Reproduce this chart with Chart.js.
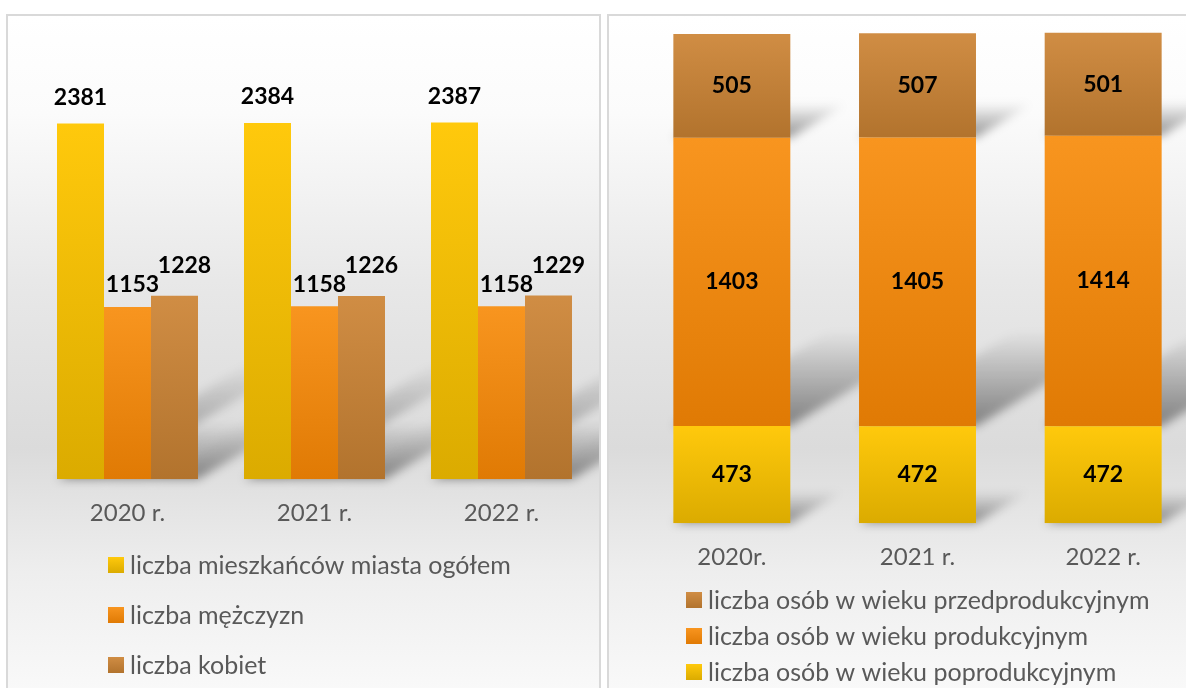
<!DOCTYPE html>
<html lang="pl">
<head>
<meta charset="utf-8">
<title>Mieszkańcy 2020–2022</title>
<script src="https://cdn.jsdelivr.net/npm/chart.js@4.4.1/dist/chart.umd.min.js"></script>
<style>
  html, body { margin: 0; padding: 0; background: #fff; }
  body { width: 1186px; height: 688px; position: relative; overflow: hidden; }
  .panel {
    position: absolute; top: 14px; height: 700px; overflow: hidden;
    border: 2px solid #d9d9d9; box-sizing: border-box;
    background: linear-gradient(to bottom, #ffffff 0%, #fbfbfb 14%, #e8e8e8 38%, #dbdbdb 62%, #eeeeee 80%, #fbfbfb 100%);
  }
  #leftPanel { left: 6px; width: 595px; }
  #rightPanel { left: 607px; width: 600px; }
  .panel canvas { position: absolute; left: 0; top: 0; }
</style>
</head>
<body>
<div class="panel" id="leftPanel"><canvas id="peopleChart" width="591" height="672"></canvas></div>
<div class="panel" id="rightPanel"><canvas id="ageChart" width="591" height="672"></canvas></div>

<script>
/* ========= DATA ========= */
const YEARS_LEFT = ["2020 r.", "2021 r.", "2022 r."];
const YEARS_RIGHT = ["2020r.", "2021 r.", "2022 r."];

const TOTAL = [2381, 2384, 2387];
const MEN = [1153, 1158, 1158];
const WOMEN = [1228, 1226, 1229];

const PRE_WORKING = [505, 507, 501];
const WORKING = [1403, 1405, 1414];
const POST_WORKING = [473, 472, 472];

/* ========= COLOURS (top, bottom of each bar) ========= */
const YELLOW = ["#ffc90c", "#dbab00"];
const ORANGE = ["#f8951f", "#e07a04"];
const BROWN = ["#d08d44", "#b2732d"];

const FONT = "Lato, 'Open Sans', sans-serif";

/* ========= BAR GRADIENT ========= */
function barFill(colors, stacked) {
  return function (c) {
    const y = c.chart.scales.y;
    if (c.type !== "data" || !y) return colors[0];
    let start = 0;
    if (stacked) {
      for (let i = 0; i < c.datasetIndex; i++) start += c.chart.data.datasets[i].data[c.dataIndex];
    }
    const top = y.getPixelForValue(start + c.raw);
    const bottom = y.getPixelForValue(start);
    if (!isFinite(top) || !isFinite(bottom) || top === bottom) return colors[0];
    const g = c.chart.ctx.createLinearGradient(0, top, 0, bottom);
    g.addColorStop(0, colors[0]);
    g.addColorStop(1, colors[1]);
    return g;
  };
}

/* ========= SOFT DIAGONAL SHADOWS behind each bar ========= */
const barShadows = {
  id: "barShadows",
  beforeDatasetsDraw(chart) {
    const ctx = chart.ctx;
    ctx.save();
    ctx.filter = "blur(5px)";
    chart.data.datasets.forEach((ds, i) => {
      chart.getDatasetMeta(i).data.forEach(bar => {
        const h = bar.base - bar.y;
        const x0 = bar.x - bar.width / 2;
        const x1 = bar.x + bar.width / 2;
        const s = h * 0.33, d = h * 0.55;
        const g = ctx.createLinearGradient(0, bar.base, 0, bar.base - s);
        g.addColorStop(0, "rgba(0,0,0,0.42)");
        g.addColorStop(1, "rgba(0,0,0,0)");
        ctx.fillStyle = g;
        ctx.beginPath();
        ctx.moveTo(x0, bar.base);
        ctx.lineTo(x1, bar.base);
        ctx.lineTo(x1 + d, bar.base - s);
        ctx.lineTo(x0 + d, bar.base - s);
        ctx.closePath();
        ctx.fill();
      });
    });
    ctx.restore();
  }
};

/* ========= VALUE LABELS ========= */
const valueLabels = {
  id: "valueLabels",
  afterDatasetsDraw(chart, args, opts) {
    const ctx = chart.ctx;
    ctx.save();
    ctx.font = "bold 23px " + FONT;
    ctx.fillStyle = "#000";
    ctx.textAlign = "center";
    ctx.textBaseline = "middle";
    chart.data.datasets.forEach((ds, i) => {
      chart.getDatasetMeta(i).data.forEach((bar, j) => {
        const v = ds.data[j];
        if (opts.inside) {
          ctx.fillText(v, bar.x, (bar.y + bar.base) / 2);
        } else {
          ctx.fillText(v, bar.x + (ds.labelDx || 0), bar.y - (ds.labelDy || 24));
        }
      });
    });
    ctx.restore();
  }
};

/* ========= LEGEND (one item per line) ========= */
const listLegend = {
  id: "listLegend",
  afterDraw(chart, args, opts) {
    const ctx = chart.ctx;
    ctx.save();
    ctx.font = "25px " + FONT;
    ctx.textBaseline = "middle";
    ctx.textAlign = "left";
    opts.order.forEach((i, k) => {
      const ds = chart.data.datasets[i];
      const y = opts.top + k * opts.step;
      const g = ctx.createLinearGradient(0, y - 8, 0, y + 8);
      g.addColorStop(0, ds.colors[0]);
      g.addColorStop(1, ds.colors[1]);
      ctx.fillStyle = g;
      ctx.fillRect(opts.x, y - 8, 16, 16);
      ctx.fillStyle = "#595959";
      ctx.fillText(ds.label, opts.x + 22, y + 1);
    });
    ctx.restore();
  }
};

function xAxis(labels) {
  return {
    type: "category",
    labels,
    grid: { display: false, drawTicks: false },
    border: { display: false },
    ticks: { color: "#595959", font: { family: FONT, size: 24 }, padding: 20 }
  };
}

/* ========= LEFT: RESIDENTS ========= */
function renderPeopleChart() {
  new Chart(document.getElementById("peopleChart"), {
    type: "bar",
    data: {
      labels: YEARS_LEFT,
      datasets: [
        { label: "liczba mieszkańców miasta ogółem", data: TOTAL, colors: YELLOW,
          backgroundColor: barFill(YELLOW, false), labelDy: 26 },
        { label: "liczba mężczyzn", data: MEN, colors: ORANGE,
          backgroundColor: barFill(ORANGE, false), labelDy: 22, labelDx: 5 },
        { label: "liczba kobiet", data: WOMEN, colors: BROWN,
          backgroundColor: barFill(BROWN, false), labelDy: 30, labelDx: 10 }
      ]
    },
    options: {
      responsive: false,
      animation: false,
      layout: { padding: { left: 26, right: 4, top: 15, bottom: 140 } },
      datasets: { bar: { categoryPercentage: 0.754, barPercentage: 1 } },
      scales: {
        x: xAxis(YEARS_LEFT),
        y: { display: false, min: 0, max: 3000 }
      },
      plugins: {
        legend: { display: false },
        tooltip: { enabled: false },
        valueLabels: { inside: false },
        listLegend: { order: [0, 1, 2], x: 100, top: 549, step: 50 }
      }
    },
    plugins: [barShadows, valueLabels, listLegend]
  });
}

/* ========= RIGHT: AGE GROUPS ========= */
function renderAgeChart() {
  new Chart(document.getElementById("ageChart"), {
    type: "bar",
    data: {
      labels: YEARS_RIGHT,
      datasets: [
        { label: "liczba osób w wieku poprodukcyjnym", data: POST_WORKING, colors: YELLOW,
          backgroundColor: barFill(YELLOW, true) },
        { label: "liczba osób w wieku produkcyjnym", data: WORKING, colors: ORANGE,
          backgroundColor: barFill(ORANGE, true) },
        { label: "liczba osób w wieku przedprodukcyjnym", data: PRE_WORKING, colors: BROWN,
          backgroundColor: barFill(BROWN, true) }
      ]
    },
    options: {
      responsive: false,
      animation: false,
      layout: { padding: { left: 30, right: 4, top: 14, bottom: 96 } },
      datasets: { bar: { categoryPercentage: 1, barPercentage: 0.63 } },
      scales: {
        x: Object.assign(xAxis(YEARS_RIGHT), { stacked: true }),
        y: { display: false, stacked: true, min: 0, max: 2400 }
      },
      plugins: {
        legend: { display: false },
        tooltip: { enabled: false },
        valueLabels: { inside: true },
        listLegend: { order: [2, 1, 0], x: 77, top: 584, step: 36 }
      }
    },
    plugins: [barShadows, valueLabels, listLegend]
  });
}

document.fonts.load("25px Lato").then(() => document.fonts.load("bold 23px Lato")).finally(() => {
  renderPeopleChart();
  renderAgeChart();
});
</script>
</body>
</html>
